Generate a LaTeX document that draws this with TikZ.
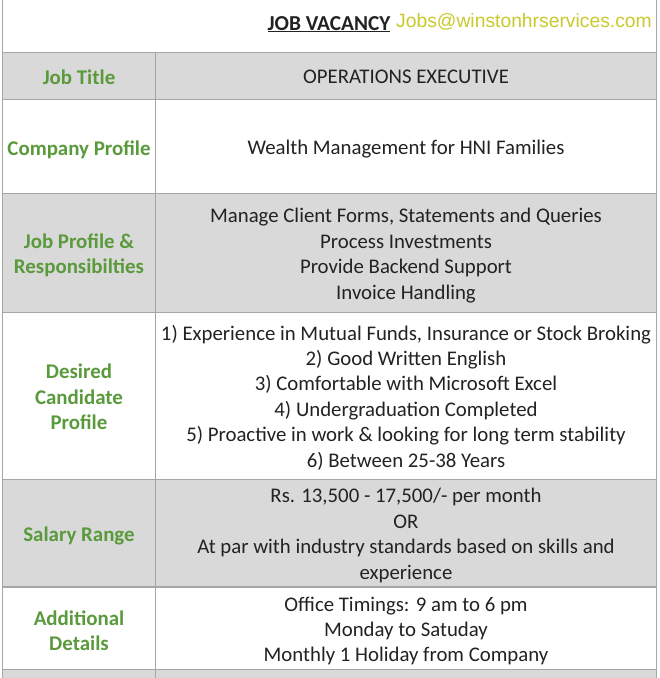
\documentclass[tikz,border=0pt]{standalone}
\usepackage{fontspec}
\setmainfont{Carlito}
\newfontfamily\arialfont{Liberation Sans}
\definecolor{rowgray}{HTML}{D9D9D9}
\definecolor{linegray}{HTML}{A6A6A6}
\definecolor{labelgreen}{HTML}{5A9A3C}
\definecolor{bodytext}{HTML}{222222}
\definecolor{mailyellow}{HTML}{C9C92A}
\begin{document}
\begin{tikzpicture}[x=1pt,y=-1pt,
  lbl/.style={text=labelgreen,font=\bfseries\fontsize{20.9}{25.4}\selectfont,align=center,inner sep=0pt},
  body/.style={text=bodytext,font=\fontsize{20.8}{25.4}\selectfont,align=center,inner sep=0pt},
  grid/.style={draw=linegray,line width=1.4pt}]
\useasboundingbox (0,0) rectangle (660,678);
\fill[white] (0,0) rectangle (660,678);
% gray rows
\fill[rowgray] (2.7,52.7) rectangle (656.7,99.3);
\fill[rowgray] (2.7,193.3) rectangle (656.7,312.7);
\fill[rowgray] (2.7,479.5) rectangle (656.7,587);
\fill[rowgray] (2.7,669.3) rectangle (656.7,678);
% grid lines
\foreach \yy in {52.7,99.3,193.3,312.7,479.5,587,669.3}
  \draw[grid] (2.7,\yy) -- (656.7,\yy);
\draw[grid] (2.7,0) -- (2.7,678);
\draw[grid] (656.7,0) -- (656.7,678);
\draw[grid] (155.3,52.7) -- (155.3,678);
% title row
\node[text=bodytext,font=\bfseries\fontsize{21.3}{24}\selectfont,inner sep=0pt,anchor=base] (title) at (329,30) {\underline{JOB VACANCY}};
\node[text=mailyellow,font=\arialfont\fontsize{19.3}{22}\selectfont,inner sep=0pt,anchor=base west] (mail) at (396,27.5) {Jobs@winstonhrservices.com};
% labels
\node[lbl] (l1) at (79,77) {Job Title};
\node[lbl] (l2) at (79,149.5) {Company Profile};
\node[lbl] (l3) at (79,255) {Job Profile \&\\Responsibilties};
\node[lbl] (l4) at (79,397) {Desired\\Candidate\\Profile};
\node[lbl] (l5) at (79,536) {Salary Range};
\node[lbl] (l6) at (79,630.5) {Additional\\Details};
% contents
\node[body] (c1) at (406,77) {OPERATIONS EXECUTIVE};
\node[body] (c2) at (406,149.5) {Wealth Management for HNI Families};
\node[body] (c3) at (406,255.5) {Manage Client Forms, Statements and Queries\\Process Investments\\Provide Backend Support\\Invoice Handling};
\node[body] (c4) at (406,397.5) {1) Experience in Mutual Funds, Insurance or Stock Broking\\2) Good Written English\\3) Comfortable with Microsoft Excel\\4) Undergraduation Completed\\5) Proactive in work \& looking for long term stability\\6) Between 25-38 Years};
\node[body] (c5) at (406,535.5) {Rs. 13,500 - 17,500/- per month\\OR\\At par with industry standards based on skills and\\experience};
\node[body] (c6) at (406,631) {Office Timings: 9 am to 6 pm\\Monday to Satuday\\Monthly 1 Holiday from Company};
\end{tikzpicture}
\end{document}
